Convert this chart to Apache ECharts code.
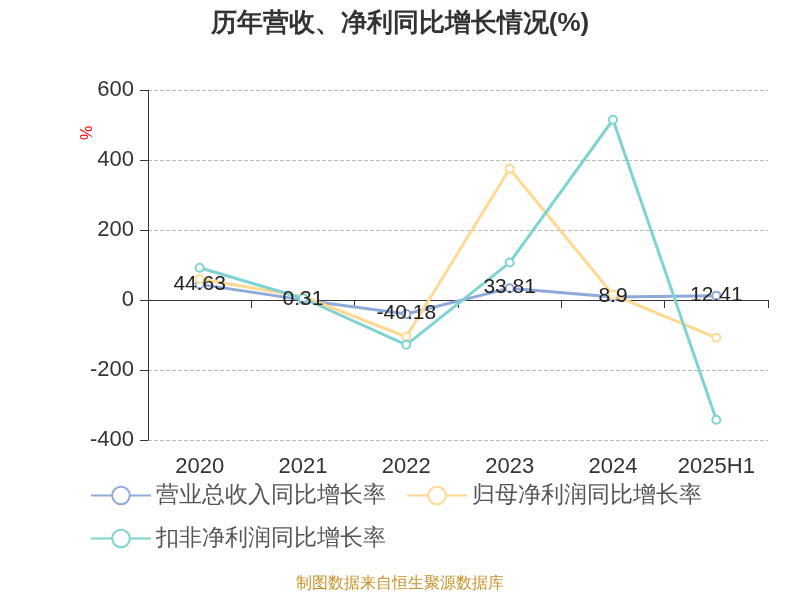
<!DOCTYPE html><html><head><meta charset="utf-8"><script src="https://cdn.jsdelivr.net/npm/echarts@6/dist/echarts.min.js"></script></head><body style="margin:0"><div id="c" style="width:800px;height:600px"></div><script>
const categories=['2020','2021','2022','2023','2024','2025H1'];
const revenue=[44.63,0.31,-40.18,33.81,8.9,12.41];
const netProfit=[60,10,-105,375,15,-108];
const deductedProfit=[92,5,-128,107,515,-342];
const names=['营业总收入同比增长率','归母净利润同比增长率','扣非净利润同比增长率'];
const colors=['#8eaadb','#ffd992','#7fd3d3'];
const ch=echarts.init(document.getElementById('c'));
const mk=(n,d,c,lab)=>({name:n,type:'line',data:d,symbol:'emptyCircle',symbolSize:8,xAxisIndex:0,
 lineStyle:{width:3,color:c},itemStyle:{color:c},
 label:{show:lab,position:'top',fontSize:21,color:'#222',offset:[0,20]}});
ch.setOption({
 title:{text:'历年营收、净利同比增长情况(%)',left:'center',top:6,textStyle:{fontSize:26,fontWeight:'bold',color:'#333'}},
 grid:{left:148,right:32,top:90,bottom:160},
 legend:{bottom:45,left:85,width:660,itemWidth:60,itemHeight:22,itemGap:20,textStyle:{fontSize:23,color:'#555'},data:names},
 xAxis:[{type:'category',data:categories,axisLine:{onZero:true,lineStyle:{color:'#333'}},axisTick:{show:true,length:8},axisLabel:{show:false}},
 {type:'category',data:categories,position:'bottom',axisLine:{show:false},axisTick:{show:false},axisLabel:{fontSize:22,color:'#333',margin:16}}],
 yAxis:{type:'value',min:-400,max:600,interval:200,
  axisLine:{show:true,lineStyle:{color:'#333'}},axisTick:{show:true,length:8},axisLabel:{fontSize:22,color:'#333',margin:14},
  splitLine:{lineStyle:{type:'dashed',color:'#bbb'}}},
 graphic:[{type:'text',left:'center',bottom:8,style:{text:'制图数据来自恒生聚源数据库',fill:'#c8922a',fontSize:16}},
  {type:'text',x:80,y:140,rotation:Math.PI/2,style:{text:'%',fill:'red',fontSize:16}}],
 series:[mk(names[0],revenue,colors[0],true),mk(names[1],netProfit,colors[1],false),mk(names[2],deductedProfit,colors[2],false)]
});
</script></body></html>
